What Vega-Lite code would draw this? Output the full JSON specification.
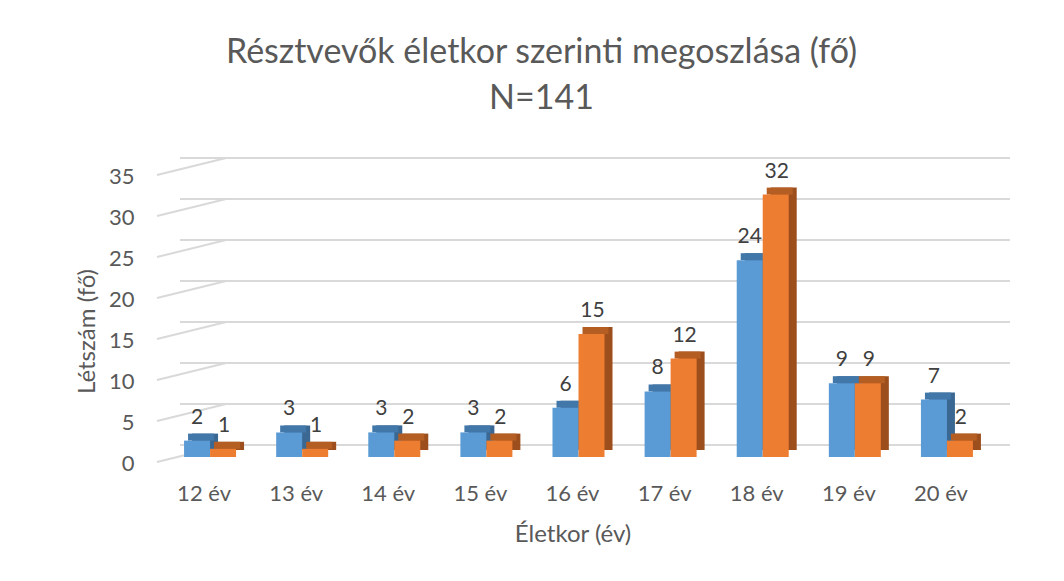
{
  "$schema": "https://vega.github.io/schema/vega-lite/v6.json",
  "width": 829,
  "height": 287,
  "autosize": {"type": "none"},
  "padding": {"left": 158, "top": 170, "right": 77, "bottom": 124},
  "background": "white",
  "config": {"view": {"stroke": null}, "font": "Lato"},
  "title": {
    "text": ["Résztvevők életkor szerinti megoszlása (fő)", "N=141"],
    "fontSize": 34,
    "fontWeight": "normal",
    "color": "#595959",
    "lineHeight": 46,
    "anchor": "middle",
    "dx": -31,
    "offset": 41,
    "font": "Lato"
  },
  "datasets": {
    "bars": [
      {"age": "12 év", "s": "Sorozat1", "n": 2}, {"age": "12 év", "s": "Sorozat2", "n": 1},
      {"age": "13 év", "s": "Sorozat1", "n": 3}, {"age": "13 év", "s": "Sorozat2", "n": 1},
      {"age": "14 év", "s": "Sorozat1", "n": 3}, {"age": "14 év", "s": "Sorozat2", "n": 2},
      {"age": "15 év", "s": "Sorozat1", "n": 3}, {"age": "15 év", "s": "Sorozat2", "n": 2},
      {"age": "16 év", "s": "Sorozat1", "n": 6}, {"age": "16 év", "s": "Sorozat2", "n": 15},
      {"age": "17 év", "s": "Sorozat1", "n": 8}, {"age": "17 év", "s": "Sorozat2", "n": 12},
      {"age": "18 év", "s": "Sorozat1", "n": 24}, {"age": "18 év", "s": "Sorozat2", "n": 32},
      {"age": "19 év", "s": "Sorozat1", "n": 9}, {"age": "19 év", "s": "Sorozat2", "n": 9},
      {"age": "20 év", "s": "Sorozat1", "n": 7}, {"age": "20 év", "s": "Sorozat2", "n": 2}
    ],
    "grid": [{"v": 0}, {"v": 5}, {"v": 10}, {"v": 15}, {"v": 20}, {"v": 25}, {"v": 30}, {"v": 35}]
  },
  "encoding": {
    "x": {
      "field": "age",
      "type": "nominal",
      "sort": null,
      "scale": {
        "domain": ["12 év", "13 év", "14 év", "15 év", "16 év", "17 év", "18 év", "19 év", "20 év"],
        "paddingInner": 0,
        "paddingOuter": 0
      },
      "axis": {
        "title": "Életkor (év)",
        "labelAngle": 0,
        "labelFontSize": 22,
        "labelColor": "#595959",
        "labelPadding": 26,
        "titleFontSize": 24,
        "titleFontWeight": "normal",
        "titleColor": "#595959",
        "titlePadding": 18,
        "domain": false,
        "ticks": false,
        "grid": false
      }
    },
    "y": {
      "field": "n",
      "type": "quantitative",
      "scale": {"domain": [0, 35], "nice": false},
      "axis": {
        "title": "Létszám (fő)",
        "values": [0, 5, 10, 15, 20, 25, 30, 35],
        "labelFontSize": 22,
        "labelColor": "#595959",
        "labelPadding": 24,
        "labelOffset": 6,
        "titleFontSize": 24,
        "titleFontWeight": "normal",
        "titleColor": "#595959",
        "titleX": -71,
        "titleY": 161,
        "titleAlign": "center",
        "titleBaseline": "middle",
        "domain": false,
        "ticks": false,
        "grid": false
      }
    }
  },
  "layer": [
    {
      "data": {"name": "grid"},
      "mark": {"type": "rule", "color": "#d9d9d9", "strokeWidth": 2, "xOffset": 22, "x2Offset": 69, "yOffset": -12},
      "encoding": {
        "x": {"datum": "12 év", "bandPosition": 0},
        "x2": {"datum": "20 év"},
        "y": {"field": "v", "type": "quantitative"}
      }
    },
    {
      "data": {"name": "grid"},
      "mark": {"type": "rule", "color": "#d9d9d9", "strokeWidth": 2, "xOffset": -1, "x2Offset": 22, "yOffset": 5, "y2Offset": -12},
      "encoding": {
        "x": {"datum": "12 év", "bandPosition": 0},
        "x2": {"datum": "12 év"},
        "y": {"field": "v", "type": "quantitative"},
        "y2": {"field": "v"}
      }
    },
    {
      "data": {"name": "bars"},
      "transform": [{"filter": "datum.s === 'Sorozat1'"}],
      "mark": {"type": "bar", "width": 26, "xOffset": 1, "yOffset": -7, "y2Offset": -7, "color": "#3a6893"}
    },
    {
      "data": {"name": "bars"},
      "transform": [{"filter": "datum.s === 'Sorozat1'"}],
      "mark": {"type": "bar", "width": 26, "xOffset": -3, "yOffset": -7, "y2Offset": 0, "color": "#4177a9"},
      "encoding": {"y2": {"field": "n"}}
    },
    {
      "data": {"name": "bars"},
      "transform": [{"filter": "datum.s === 'Sorozat1'"}],
      "mark": {"type": "bar", "width": 26, "xOffset": -7, "color": "#5b9bd5"}
    },
    {
      "data": {"name": "bars"},
      "transform": [{"filter": "datum.s === 'Sorozat2'"}],
      "mark": {"type": "bar", "width": 26, "xOffset": 27, "yOffset": -7, "y2Offset": -7, "color": "#9c4f1d"}
    },
    {
      "data": {"name": "bars"},
      "transform": [{"filter": "datum.s === 'Sorozat2'"}],
      "mark": {"type": "bar", "width": 26, "xOffset": 23, "yOffset": -7, "y2Offset": 0, "color": "#b55e24"},
      "encoding": {"y2": {"field": "n"}}
    },
    {
      "data": {"name": "bars"},
      "transform": [{"filter": "datum.s === 'Sorozat2'"}],
      "mark": {"type": "bar", "width": 26, "xOffset": 19, "color": "#ed7d31"}
    },
    {
      "data": {"name": "bars"},
      "transform": [{"filter": "datum.s === 'Sorozat1'"}],
      "mark": {"type": "text", "xOffset": -7, "yOffset": -23, "baseline": "middle", "fontSize": 21, "color": "#404040"},
      "encoding": {"text": {"field": "n", "type": "quantitative"}}
    },
    {
      "data": {"name": "bars"},
      "transform": [{"filter": "datum.s === 'Sorozat2'"}],
      "mark": {"type": "text", "xOffset": 20, "yOffset": -23, "baseline": "middle", "fontSize": 21, "color": "#404040"},
      "encoding": {"text": {"field": "n", "type": "quantitative"}}
    }
  ]
}
